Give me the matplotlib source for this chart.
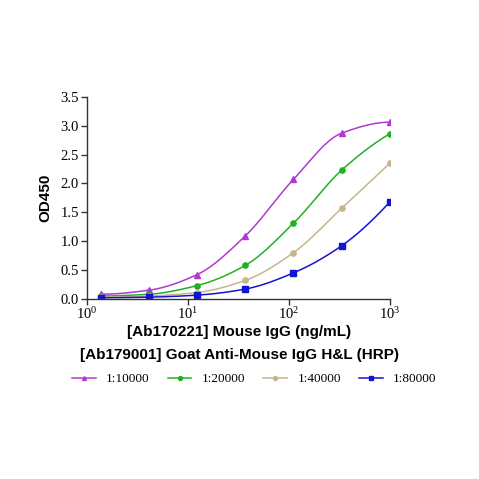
import numpy as np
import matplotlib
matplotlib.use("Agg")
import matplotlib.pyplot as plt
from matplotlib.ticker import FixedLocator, NullLocator

conc = [1000/729, 1000/243, 1000/81, 1000/27, 1000/9, 1000/3, 1000]
series_names = ["1:10000", "1:20000", "1:40000", "1:80000"]
od_10000 = [0.08, 0.15, 0.42, 1.09, 2.07, 2.87, 3.06]
od_20000 = [0.05, 0.08, 0.23, 0.58, 1.31, 2.23, 2.86]
od_40000 = [0.03, 0.05, 0.11, 0.32, 0.80, 1.57, 2.35]
od_80000 = [0.02, 0.03, 0.065, 0.17, 0.45, 0.92, 1.68]
colors = ["#B03AD0", "#22B022", "#C8B48E", "#1414D0"]
markers = ["^", "o", "o", "s"]
y_ticks = [0.0, 0.5, 1.0, 1.5, 2.0, 2.5, 3.0, 3.5]
x_ticks = [1, 10, 100, 1000]


def pchip(x, y, xn):
    x = np.asarray(x, float); y = np.asarray(y, float)
    h = np.diff(x); d = np.diff(y) / h
    n = len(x); m = np.zeros(n)
    for k in range(1, n - 1):
        if d[k - 1] * d[k] > 0:
            w1 = 2 * h[k] + h[k - 1]; w2 = h[k] + 2 * h[k - 1]
            m[k] = (w1 + w2) / (w1 / d[k - 1] + w2 / d[k])
    m[0] = ((2 * h[0] + h[1]) * d[0] - h[0] * d[1]) / (h[0] + h[1])
    if np.sign(m[0]) != np.sign(d[0]): m[0] = 0
    m[-1] = ((2 * h[-1] + h[-2]) * d[-1] - h[-1] * d[-2]) / (h[-1] + h[-2])
    if np.sign(m[-1]) != np.sign(d[-1]): m[-1] = 0
    idx = np.clip(np.searchsorted(x, xn) - 1, 0, n - 2)
    t = (xn - x[idx]) / h[idx]
    h00 = 2 * t**3 - 3 * t**2 + 1; h10 = t**3 - 2 * t**2 + t
    h01 = -2 * t**3 + 3 * t**2; h11 = t**3 - t**2
    return h00 * y[idx] + h10 * h[idx] * m[idx] + h01 * y[idx + 1] + h11 * h[idx] * m[idx + 1]


plt.rcParams['mathtext.fontset'] = 'custom'
plt.rcParams['mathtext.rm'] = 'Liberation Serif'
plt.rcParams['mathtext.it'] = 'Liberation Serif'

fig = plt.figure(figsize=(4.79, 4.79), dpi=100)
ax = fig.add_axes([0.181, 0.376, 0.633, 0.422])

lx = np.log10(conc)
xs = np.linspace(lx[0], lx[-1], 300)
for name, ys, c, mk in zip(series_names, [od_10000, od_20000, od_40000, od_80000], colors, markers):
    yc = pchip(lx, ys, xs)
    ax.plot(10**xs, yc, color=c, lw=1.1)
    ax.plot(conc, ys, linestyle='none', marker=mk, color=c, ms=3.8)
    ax.plot([], [], color=c, lw=1.1, marker=mk, ms=2.8, label=name)

ax.set_xscale('log')
ax.set_xlim(1, 1000)
ax.set_ylim(0, 3.5)
ax.xaxis.set_major_locator(FixedLocator(x_ticks))
ax.xaxis.set_minor_locator(NullLocator())
ax.set_xticklabels([r"$10^{%d}$" % int(np.log10(v)) for v in x_ticks])
ax.set_yticks(y_ticks)
ax.set_yticklabels(["%.1f" % v for v in y_ticks])
for s in ['top', 'right']:
    ax.spines[s].set_visible(False)
for s in ['left', 'bottom']:
    ax.spines[s].set_color('#333333')
    ax.spines[s].set_linewidth(1.0)
ax.tick_params(axis='both', direction='out', length=4, width=1, color='#333333',
               labelsize=10.5, pad=1.5)
for lab in ax.get_yticklabels():
    lab.set_fontfamily('Liberation Serif')

ax.set_ylabel("OD450", fontsize=11, fontweight='bold', fontfamily='Liberation Sans', labelpad=6)
fig.text(0.5, 0.307, "[Ab170221] Mouse IgG (ng/mL)", ha='center', va='center',
         fontsize=11, fontweight='bold', fontfamily='Liberation Sans')
fig.text(0.5, 0.258, "[Ab179001] Goat Anti-Mouse IgG H&L (HRP)", ha='center', va='center',
         fontsize=11, fontweight='bold', fontfamily='Liberation Sans')

fig.legend(loc='center', bbox_to_anchor=(0.531, 0.208), ncol=4, frameon=False,
           prop={'family': 'Liberation Serif', 'size': 9.5}, handlelength=1.8,
           columnspacing=1.35, handletextpad=0.8, borderpad=0, borderaxespad=0)

fig.savefig("out.png", dpi=100)
